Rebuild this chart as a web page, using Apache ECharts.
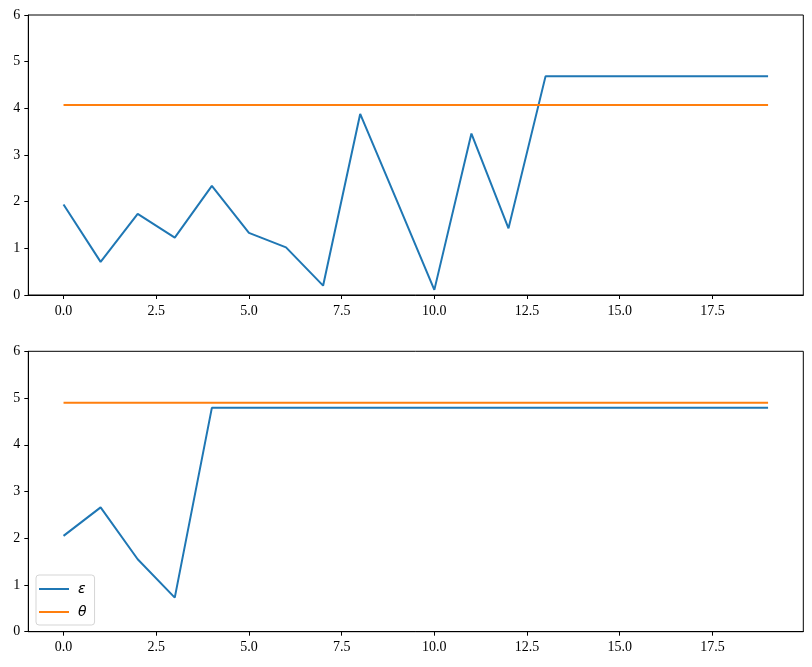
<!DOCTYPE html>
<html>
<head>
<meta charset="utf-8">
<script src="https://cdn.jsdelivr.net/npm/echarts@6/dist/echarts.min.js"></script>
<style>
html,body{margin:0;padding:0;background:#fff;}
#chart{width:812px;height:667px;}
</style>
</head>
<body>
<div id="chart"></div>
<script>
const xValues = [0,1,2,3,4,5,6,7,8,9,10,11,12,13,14,15,16,17,18,19];
const topEps = [1.94,0.71,1.74,1.23,2.34,1.33,1.02,0.20,3.88,2.0,0.11,3.46,1.43,4.69,4.69,4.69,4.69,4.69,4.69,4.69];
const topTheta = [4.07,4.07,4.07,4.07,4.07,4.07,4.07,4.07,4.07,4.07,4.07,4.07,4.07,4.07,4.07,4.07,4.07,4.07,4.07,4.07];
const botEps = [2.05,2.66,1.55,0.73,4.79,4.79,4.79,4.79,4.79,4.79,4.79,4.79,4.79,4.79,4.79,4.79,4.79,4.79,4.79,4.79];
const botTheta = [4.90,4.90,4.90,4.90,4.90,4.90,4.90,4.90,4.90,4.90,4.90,4.90,4.90,4.90,4.90,4.90,4.90,4.90,4.90,4.90];
const xTicks = [0,2.5,5,7.5,10,12.5,15,17.5];
const yTicks = [0,1,2,3,4,5,6];
const seriesNames = ['ε','θ'];

const FONT = 'Liberation Serif';
const pair = arr => arr.map((v,i)=>[xValues[i], v]);

function xAxis(gi){
  return {
    type:'value', gridIndex:gi, min:-0.95, max:19.95,
    splitLine:{show:false},
    axisLine:{show:true, onZero:false, lineStyle:{color:'#000', width:1}},
    axisTick:{show:true, length:4, inside:false, customValues:xTicks, lineStyle:{color:'#000'}},
    axisLabel:{show:true, customValues:xTicks, margin:9, color:'#000', fontFamily:FONT, fontSize:14,
      formatter:v=>Number(v).toFixed(1)}
  };
}
function yAxis(gi){
  return {
    type:'value', gridIndex:gi, min:0, max:6, interval:1,
    splitLine:{show:false},
    axisLine:{show:true, onZero:false, lineStyle:{color:'#000', width:1}},
    axisTick:{show:true, length:4, customValues:yTicks, lineStyle:{color:'#000'}},
    axisLabel:{show:true, margin:8, color:'#000', fontFamily:FONT, fontSize:14,
      customValues:yTicks, formatter:v=>String(v)}
  };
}
function line(name, data, color, gi){
  return {
    type:'line', name:name, xAxisIndex:gi, yAxisIndex:gi,
    data:pair(data), symbol:'none', showSymbol:false,
    lineStyle:{color:color, width:2}, itemStyle:{color:color},
    animation:false, silent:true
  };
}

const chart = echarts.init(document.getElementById('chart'), null, {renderer:'canvas'});
chart.setOption({
  backgroundColor:'#fff',
  animation:false,
  grid:[
    {left:28.3, right:8.7, top:15, height:280, show:true, borderColor:'#000', borderWidth:1, backgroundColor:'transparent'},
    {left:28.3, right:8.7, top:351.3, height:280.4, show:true, borderColor:'#000', borderWidth:1, backgroundColor:'transparent'}
  ],
  xAxis:[xAxis(0), xAxis(1)],
  yAxis:[yAxis(0), yAxis(1)],
  legend:{
    data:[{name:seriesNames[0]},{name:seriesNames[1]}],
    orient:'vertical', left:36, top:575,
    itemWidth:30, itemHeight:2, itemGap:9,
    icon:'rect',
    backgroundColor:'rgba(255,255,255,0.8)', borderColor:'#d5d5d5', borderWidth:1, borderRadius:3,
    padding:[7,8,6,3],
    textStyle:{fontFamily:'DejaVu Sans', fontStyle:'italic', fontSize:14, color:'#000', padding:[0,0,0,4]},
    selectedMode:false
  },
  series:[
    line(seriesNames[0], topEps, '#1f77b4', 0),
    line(seriesNames[1], topTheta, '#ff7f0e', 0),
    line(seriesNames[0], botEps, '#1f77b4', 1),
    line(seriesNames[1], botTheta, '#ff7f0e', 1)
  ]
});
</script>
</body>
</html>
